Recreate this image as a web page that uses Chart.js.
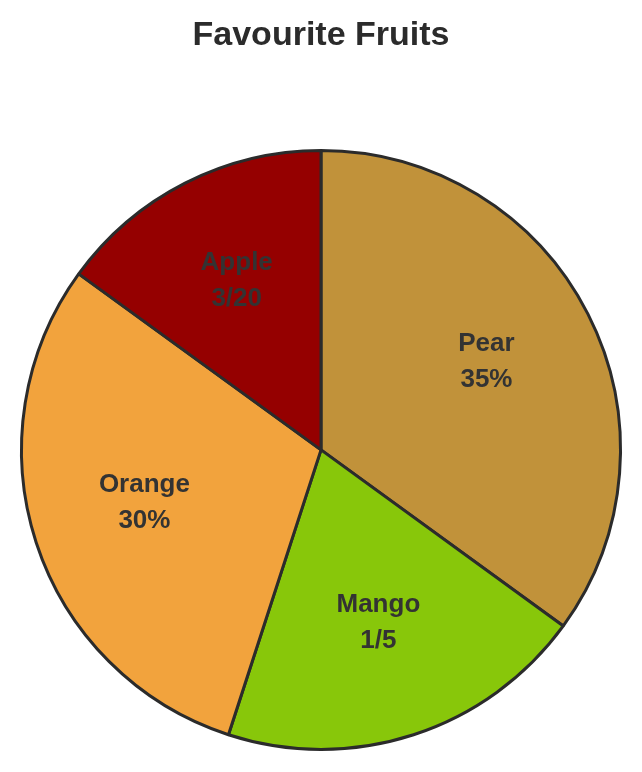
<!DOCTYPE html>
<html>
<head>
<meta charset="utf-8">
<script src="https://cdn.jsdelivr.net/npm/chart.js@4"></script>
<style>
  html, body { margin: 0; padding: 0; background: #fff; }
  #wrap { width: 642px; height: 772px; }
</style>
</head>
<body>
<div id="wrap"><canvas id="pieChart"></canvas></div>
<script>
const labels = ['Pear', 'Mango', 'Orange', 'Apple'];
const values = [35, 20, 30, 15];
const valueText = ['35%', '1/5', '30%', '3/20'];
const colors = ['#C1923A', '#88C70A', '#F2A33D', '#950000'];

// draws name + value inside each slice
const sliceLabels = {
    id: 'sliceLabels',
    afterDatasetsDraw(chart) {
        const ctx = chart.ctx;
        const arcs = chart.getDatasetMeta(0).data;
        ctx.save();
        ctx.font = 'bold 26px "Liberation Sans", Arial, sans-serif';
        ctx.fillStyle = '#333333';
        ctx.textAlign = 'center';
        ctx.textBaseline = 'middle';
        arcs.forEach((arc, i) => {
            const p = arc.getProps(['x', 'y', 'startAngle', 'endAngle', 'outerRadius'], true);
            const mid = (p.startAngle + p.endAngle) / 2;
            const r = p.outerRadius * 0.62;
            const cx = p.x + Math.cos(mid) * r;
            const cy = p.y + Math.sin(mid) * r - 4;
            ctx.fillText(labels[i], cx, cy - 18);
            ctx.fillText(valueText[i], cx, cy + 18);
        });
        ctx.restore();
    }
};

const ctx = document.getElementById('pieChart').getContext('2d');
new Chart(ctx, {
    type: 'pie',
    data: {
        labels: labels,
        datasets: [{
            data: values,
            backgroundColor: colors,
            borderColor: '#2b2b2b',
            borderWidth: 3
        }]
    },
    options: {
        responsive: true,
        maintainAspectRatio: false,
        animation: false,
        layout: { padding: { top: 15, left: 20, right: 20, bottom: 20 } },
        plugins: {
            title: {
                display: true,
                text: 'Favourite Fruits',
                color: '#2b2b2b',
                font: { family: '"Liberation Sans", Arial, sans-serif', size: 34, weight: 'bold', lineHeight: 1.2 },
                padding: { top: 0, bottom: 92 }
            },
            legend: { display: false },
            tooltip: { enabled: false }
        }
    },
    plugins: [sliceLabels]
});
</script>
</body>
</html>
